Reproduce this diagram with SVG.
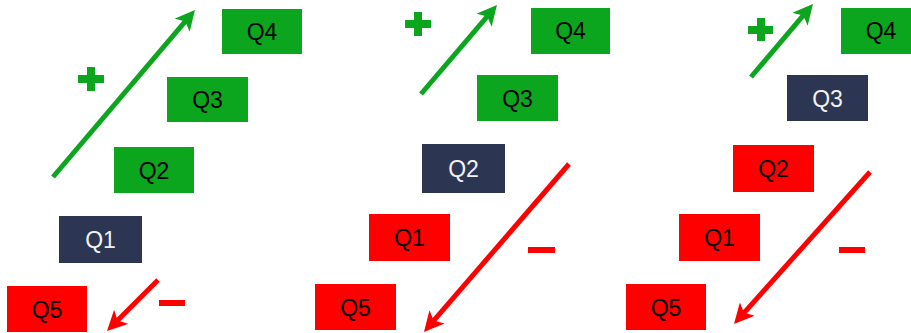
<svg xmlns="http://www.w3.org/2000/svg" width="911" height="333" viewBox="0 0 911 333">
<style>
.g{fill:#0BA61E}
.r{fill:#FF0000}
.n{fill:#2C3652}
.t{font-family:"Liberation Sans",Arial,sans-serif;font-size:23px;text-anchor:middle;fill:#000}
.w{fill:#F2F2F2}
.ag{stroke:#0BA61E;stroke-width:5;fill:none}
.ar{stroke:#FF0000;stroke-width:5;fill:none}
</style>
<defs>
<marker id="mg" viewBox="0 0 10 10" refX="4" refY="5" markerWidth="4" markerHeight="4" orient="auto"><path d="M0,0 L10,5 L0,10 L2.5,5 z" fill="#0BA61E"/></marker>
<marker id="mr" viewBox="0 0 10 10" refX="4" refY="5" markerWidth="4" markerHeight="4" orient="auto"><path d="M0,0 L10,5 L0,10 L2.5,5 z" fill="#FF0000"/></marker>
</defs>
<g id="connectors">
<line class="ag" x1="53" y1="177" x2="187.2" y2="19.1" marker-end="url(#mg)"/>
<line class="ar" x1="158" y1="280" x2="115.5" y2="322.5" marker-end="url(#mr)"/>
<line class="ag" x1="421" y1="94" x2="489.2" y2="14.1" marker-end="url(#mg)"/>
<line class="ar" x1="569" y1="164" x2="431.8" y2="322.9" marker-end="url(#mr)"/>
<line class="ag" x1="751" y1="77" x2="805.2" y2="13.1" marker-end="url(#mg)"/>
<line class="ar" x1="870" y1="172" x2="742" y2="315.1" marker-end="url(#mr)"/>
</g>
<g id="signs">
<path class="g" d="M87,67h8v8h9v8h-9v8h-8v-8h-9v-8h9z"/>
<rect class="r" x="159" y="300" width="26" height="6"/>
<path class="g" d="M414,12h8v8h9v8h-9v8h-8v-8h-9v-8h9z"/>
<rect class="r" x="528" y="247" width="27" height="6"/>
<path class="g" d="M757,18h8v8h8v8h-8v7h-8v-7h-9v-8h9z"/>
<rect class="r" x="839" y="247" width="26" height="6"/>
</g>
<g id="p1-q4"><rect class="g" x="222" y="9" width="80" height="45"/><text class="t" x="262" y="39.5">Q4</text></g>
<g id="p1-q3"><rect class="g" x="167" y="77" width="81" height="45"/><text class="t" x="207.5" y="107.5">Q3</text></g>
<g id="p1-q2"><rect class="g" x="114" y="147" width="80" height="46"/><text class="t" x="154" y="178.5">Q2</text></g>
<g id="p1-q1"><rect class="n" x="59" y="216" width="83" height="47"/><text class="t w" x="100.5" y="247.5">Q1</text></g>
<g id="p1-q5"><rect class="r" x="7" y="286" width="80" height="46"/><text class="t" x="47" y="317.5">Q5</text></g>
<g id="p2-q4"><rect class="g" x="531" y="8" width="79" height="46"/><text class="t" x="570.5" y="38.5">Q4</text></g>
<g id="p2-q3"><rect class="g" x="477" y="75" width="81" height="46"/><text class="t" x="517.5" y="106.5">Q3</text></g>
<g id="p2-q2"><rect class="n" x="422" y="144" width="83" height="49"/><text class="t w" x="463.5" y="176.5">Q2</text></g>
<g id="p2-q1"><rect class="r" x="369" y="214" width="81" height="47"/><text class="t" x="409.5" y="245.5">Q1</text></g>
<g id="p2-q5"><rect class="r" x="315" y="284" width="81" height="46"/><text class="t" x="355.5" y="315.5">Q5</text></g>
<g id="p3-q4"><rect class="g" x="841" y="8" width="80" height="46"/><text class="t" x="881" y="38.5">Q4</text></g>
<g id="p3-q3"><rect class="n" x="787" y="75" width="81" height="46"/><text class="t w" x="827.5" y="106.5">Q3</text></g>
<g id="p3-q2"><rect class="r" x="733" y="145" width="81" height="47"/><text class="t" x="773.5" y="176.5">Q2</text></g>
<g id="p3-q1"><rect class="r" x="679" y="214" width="81" height="47"/><text class="t" x="719.5" y="245.5">Q1</text></g>
<g id="p3-q5"><rect class="r" x="626" y="284" width="80" height="46"/><text class="t" x="666" y="315.5">Q5</text></g>
</svg>
